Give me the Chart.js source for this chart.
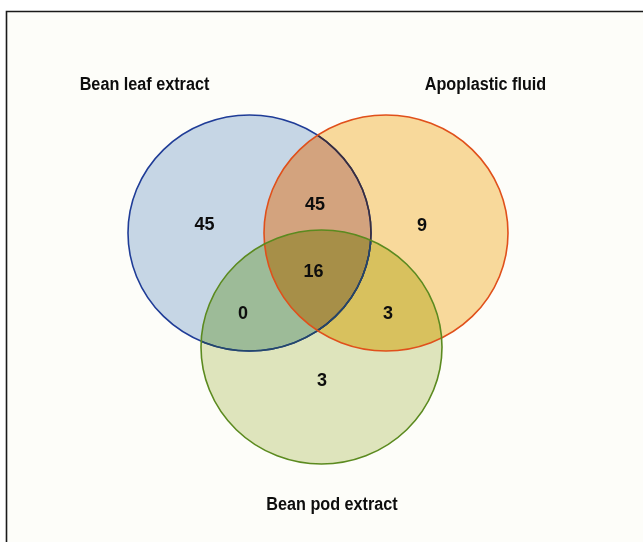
<!DOCTYPE html>
<html>
<head>
<meta charset="utf-8">
<script src="https://cdn.jsdelivr.net/npm/chart.js@4"></script>
<style>
  html, body { margin: 0; padding: 0; background: #ffffff; }
  canvas { display: block; }
</style>
</head>
<body>
<canvas id="venn" width="643" height="542"></canvas>
<script>
// Set names and the count in each region of the diagram.
const setNames = ['Bean leaf extract', 'Apoplastic fluid', 'Bean pod extract'];
const regionKeys = ['A', 'AB', 'B', 'AC', 'ABC', 'BC', 'C'];
const regionCounts = [45, 45, 9, 0, 16, 3, 3];

// Layout in data units (the axes run 0..643 by 0..542, y down).
const circles = {
  A: { cx: 249.5, cy: 233, rx: 121.5, ry: 118, stroke: '#1f3c97' },
  B: { cx: 386, cy: 233, rx: 122, ry: 118, stroke: '#e0501b' },
  C: { cx: 321.5, cy: 347, rx: 120.5, ry: 117, stroke: '#5b8a1f' }
};
const namePos = [[144.5, 85], [485.5, 85], [332, 505]];
const countPos = {
  A: [204.5, 225.5], AB: [315, 205.5], B: [422, 226.5],
  AC: [243, 314], ABC: [313.5, 272.5], BC: [388, 314], C: [322, 381]
};
const regionFill = {
  A: '#c6d6e5', B: '#f8d99b', C: '#dee4bc',
  AB: '#d3a37e', AC: '#9dbb98', BC: '#d8c15e', ABC: '#a78f48'
};

const countPoints = regionKeys.map((k, i) => ({ x: countPos[k][0], y: countPos[k][1], n: regionCounts[i] }));
const namePoints = setNames.map((s, i) => ({ x: namePos[i][0], y: namePos[i][1], s: s }));

function ellipsePath(ctx, xs, ys, c) {
  const cx = xs.getPixelForValue(c.cx), cy = ys.getPixelForValue(c.cy);
  const rx = Math.abs(xs.getPixelForValue(c.cx + c.rx) - cx);
  const ry = Math.abs(ys.getPixelForValue(c.cy + c.ry) - cy);
  ctx.beginPath();
  ctx.ellipse(cx, cy, rx, ry, 0, 0, Math.PI * 2);
}

const vennPlugin = {
  id: 'venn',
  beforeDraw(chart) {
    const ctx = chart.ctx;
    ctx.save();
    ctx.fillStyle = '#ffffff';
    ctx.fillRect(0, 0, chart.width, chart.height);
    ctx.fillStyle = '#fdfdf9';
    ctx.fillRect(6.5, 11.5, chart.width, chart.height);
    ctx.strokeStyle = '#1a1a1a';
    ctx.lineWidth = 1.6;
    ctx.beginPath();
    ctx.moveTo(6.5, chart.height + 2);
    ctx.lineTo(6.5, 11.5);
    ctx.lineTo(chart.width + 2, 11.5);
    ctx.stroke();
    ctx.restore();
  },
  beforeDatasetsDraw(chart) {
    const ctx = chart.ctx, xs = chart.scales.x, ys = chart.scales.y;
    const fillIn = (clips, key, color) => {
      ctx.save();
      clips.forEach(k => { ellipsePath(ctx, xs, ys, circles[k]); ctx.clip(); });
      ellipsePath(ctx, xs, ys, circles[key]);
      ctx.fillStyle = color;
      ctx.fill();
      ctx.restore();
    };
    fillIn([], 'A', regionFill.A);
    fillIn([], 'B', regionFill.B);
    fillIn([], 'C', regionFill.C);
    fillIn(['A'], 'B', regionFill.AB);
    fillIn(['A'], 'C', regionFill.AC);
    fillIn(['B'], 'C', regionFill.BC);
    fillIn(['A', 'B'], 'C', regionFill.ABC);

    const strokeIn = (clip, key, color) => {
      ctx.save();
      if (clip) { ellipsePath(ctx, xs, ys, circles[clip]); ctx.clip(); }
      ellipsePath(ctx, xs, ys, circles[key]);
      ctx.strokeStyle = color;
      ctx.lineWidth = 1.6;
      ctx.stroke();
      ctx.restore();
    };
    strokeIn(null, 'A', circles.A.stroke);
    strokeIn('B', 'A', '#3a2d3a');
    strokeIn('C', 'A', '#24476a');
    strokeIn(null, 'B', circles.B.stroke);
    strokeIn(null, 'C', circles.C.stroke);
  },
  afterDatasetsDraw(chart) {
    const ctx = chart.ctx;
    ctx.save();
    ctx.fillStyle = '#0d0d0d';
    ctx.textAlign = 'center';
    ctx.textBaseline = 'middle';
    ctx.font = 'bold 18px "Liberation Sans", Arial, sans-serif';
    chart.getDatasetMeta(0).data.forEach((pt, i) => {
      ctx.fillText(String(countPoints[i].n), pt.x, pt.y);
    });
    // set names are set in a narrow face in the original
    chart.getDatasetMeta(1).data.forEach((pt, i) => {
      ctx.save();
      ctx.translate(pt.x, pt.y);
      ctx.scale(0.9, 1);
      ctx.fillText(namePoints[i].s, 0, 0);
      ctx.restore();
    });
    ctx.restore();
  }
};

new Chart(document.getElementById('venn').getContext('2d'), {
  type: 'scatter',
  data: {
    datasets: [
      { label: 'counts', data: countPoints, pointRadius: 0, pointHoverRadius: 0 },
      { label: 'names', data: namePoints, pointRadius: 0, pointHoverRadius: 0 }
    ]
  },
  options: {
    responsive: false,
    animation: false,
    events: [],
    layout: { padding: 0 },
    plugins: { legend: { display: false }, tooltip: { enabled: false } },
    scales: {
      x: { type: 'linear', min: 0, max: 643, display: false },
      y: { type: 'linear', min: 0, max: 542, reverse: true, display: false }
    }
  },
  plugins: [vennPlugin]
});
</script>
</body>
</html>
